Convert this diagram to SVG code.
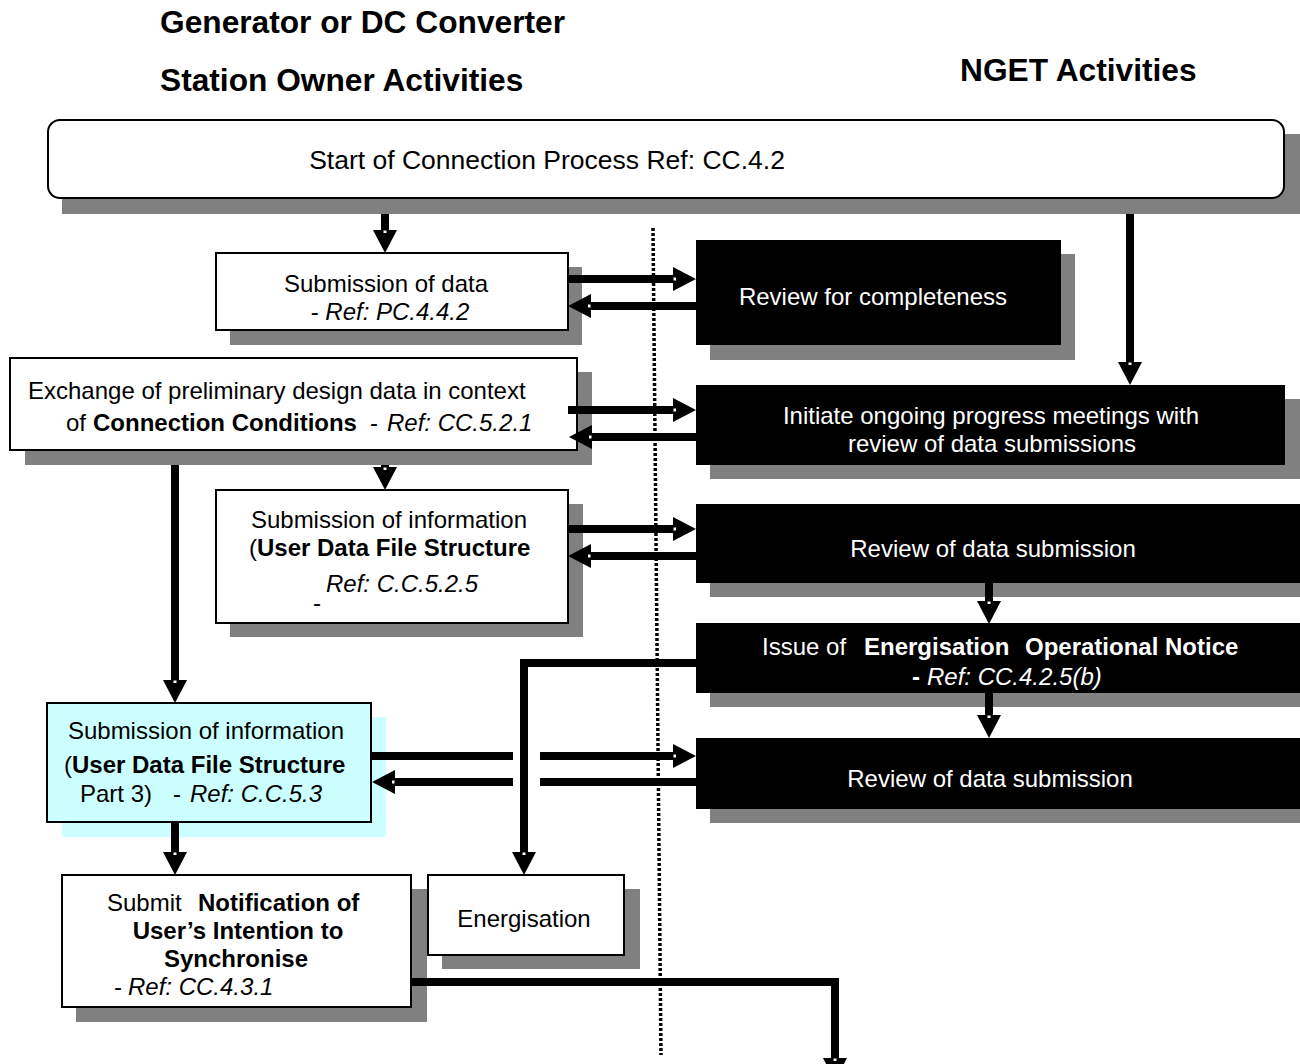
<svg xmlns="http://www.w3.org/2000/svg" width="1300" height="1064" viewBox="0 0 1300 1064">
<style>
text{font-family:"Liberation Sans",Arial,sans-serif;font-size:24px;fill:#000}
.h{font-size:31.7px;font-weight:bold}
.w{fill:#fff}
.b{font-weight:bold}
.i{font-style:italic}
.m{text-anchor:middle}
.sh{fill:#808080}
.box{fill:#fff;stroke:#000;stroke-width:2}
.blk{fill:#000}
.cy{fill:#ccffff}
.cyb{fill:#ccffff;stroke:#000;stroke-width:2}
.ln{fill:none;stroke:#000;stroke-width:8;stroke-linejoin:miter}
.arr{marker-end:url(#ah)}
</style>
<defs>
<marker id="ah" viewBox="0 0 23 24" markerWidth="23" markerHeight="24" refX="2" refY="12" orient="auto" markerUnits="userSpaceOnUse">
<path d="M0,0 L23,12 L0,24 Z" fill="#000"/>
<rect x="0.5" y="10.5" width="2.5" height="3" fill="#fff"/>
</marker>
</defs>
<rect width="1300" height="1064" fill="#fff"/>

<g id="headings">
<text class="h" x="160" y="33">Generator or DC Converter</text>
<text class="h" x="160" y="91">Station Owner Activities</text>
<text class="h" x="960" y="81">NGET Activities</text>
</g>

<line id="divider" x1="653" y1="228" x2="661" y2="1055" stroke="#000" stroke-width="3.5" stroke-dasharray="3 2"/>

<g id="start">
<rect class="sh" x="62" y="134" width="1238" height="80"/>
<rect class="box" x="48" y="120" width="1236" height="78" rx="12"/>
<text x="547" y="169" class="m" style="font-size:26.5px">Start of Connection Process Ref: CC.4.2</text>
</g>

<g id="sub-data">
<rect class="sh" x="230" y="267" width="352" height="78"/>
<rect class="box" x="216" y="253" width="352" height="77"/>
<text x="386" y="292" class="m">Submission of data</text>
<text x="390" y="320" class="m">- <tspan class="i">Ref: PC.4.4.2</tspan></text>
</g>

<g id="review-complete">
<rect class="sh" x="710" y="254" width="365" height="106"/>
<rect class="blk" x="696" y="240" width="365" height="105"/>
<text x="873" y="305" class="m w">Review for completeness</text>
</g>

<g id="exchange">
<rect class="sh" x="25" y="372" width="567" height="93"/>
<rect class="box" x="10" y="358" width="567" height="92"/>
<text x="28" y="399">Exchange of preliminary design data in context</text>
<text y="431"><tspan x="66">of</tspan><tspan x="93" class="b">Connection Conditions</tspan><tspan x="370">-</tspan><tspan x="387" class="i">Ref: CC.5.2.1</tspan></text>
</g>

<g id="initiate">
<rect class="sh" x="710" y="399" width="590" height="80"/>
<rect class="blk" x="696" y="385" width="589" height="80"/>
<text x="991" y="424" class="m w">Initiate ongoing progress meetings with</text>
<text x="992" y="452" class="m w">review of data submissions</text>
</g>

<g id="sub-info">
<rect class="sh" x="230" y="504" width="353" height="133"/>
<rect class="box" x="216" y="490" width="352" height="133"/>
<text x="389" y="528" class="m">Submission of information</text>
<text x="249" y="556">(<tspan class="b">User Data File Structure</tspan></text>
<text x="326" y="592" class="i">Ref: C.C.5.2.5</text>
<text x="313" y="611">-</text>
</g>

<g id="review-1">
<rect class="sh" x="710" y="518" width="590" height="79"/>
<rect class="blk" x="696" y="504" width="604" height="79"/>
<text x="993" y="557" class="m w">Review of data submission</text>
</g>

<g id="issue">
<rect class="sh" x="710" y="637" width="590" height="70"/>
<rect class="blk" x="696" y="623" width="604" height="70"/>
<text y="655" class="w"><tspan x="762">Issue of</tspan><tspan x="864" class="b">Energisation</tspan><tspan x="1025" class="b">Operational Notice</tspan></text>
<text y="685" class="w"><tspan x="912" class="b">-</tspan><tspan x="927" class="i">Ref: CC.4.2.5(b)</tspan></text>
</g>

<g id="review-2">
<rect class="sh" x="710" y="752" width="590" height="71"/>
<rect class="blk" x="696" y="738" width="604" height="71"/>
<text x="990" y="787" class="m w">Review of data submission</text>
</g>

<g id="sub-info-3">
<rect class="cy" x="62" y="717" width="324" height="120"/>
<rect class="cyb" x="47" y="703" width="324" height="119"/>
<text x="206" y="739" class="m">Submission of information</text>
<text x="64" y="773">(<tspan class="b">User Data File Structure</tspan></text>
<text y="802"><tspan x="80">Part 3)</tspan><tspan x="173">-</tspan><tspan x="190" class="i">Ref: C.C.5.3</tspan></text>
</g>

<g id="submit-notification">
<rect class="sh" x="76" y="889" width="351" height="133"/>
<rect class="box" x="62" y="875" width="349" height="132"/>
<text y="911"><tspan x="107">Submit</tspan><tspan x="198" class="b">Notification of</tspan></text>
<text x="238" y="939" class="m b">User’s Intention to</text>
<text x="236" y="967" class="m b">Synchronise</text>
<text y="995"><tspan x="114">-</tspan><tspan x="128" class="i">Ref: CC.4.3.1</tspan></text>
</g>

<g id="energisation">
<rect class="sh" x="442" y="889" width="198" height="80"/>
<rect class="box" x="428" y="875" width="196" height="80"/>
<text x="524" y="927" class="m">Energisation</text>
</g>

<g id="connectors">
<path class="ln arr" d="M385,214 V232"/>
<path class="ln arr" d="M1130,214 V364"/>
<path class="ln arr" d="M568,279 H675"/>
<path class="ln arr" d="M696,306 H589"/>
<path class="ln arr" d="M568,410 H675"/>
<path class="ln arr" d="M696,437 H590"/>
<path class="ln arr" d="M385,465 V469"/>
<path class="ln arr" d="M175,465 V682"/>
<path class="ln arr" d="M568,529 H675"/>
<path class="ln arr" d="M696,556 H589"/>
<path class="ln arr" d="M989,583 V603"/>
<path class="ln arr" d="M989,693 V717"/>
<path class="ln arr" d="M696,663 H524 V854"/>
<path class="ln" d="M371,756 H513"/>
<path class="ln arr" d="M540,756 H675"/>
<path class="ln" d="M696,782 H540"/>
<path class="ln arr" d="M513,782 H393"/>
<path class="ln arr" d="M175,822 V854"/>
<path class="ln arr" d="M411,982 H835 V1060"/>
</g>
</svg>
